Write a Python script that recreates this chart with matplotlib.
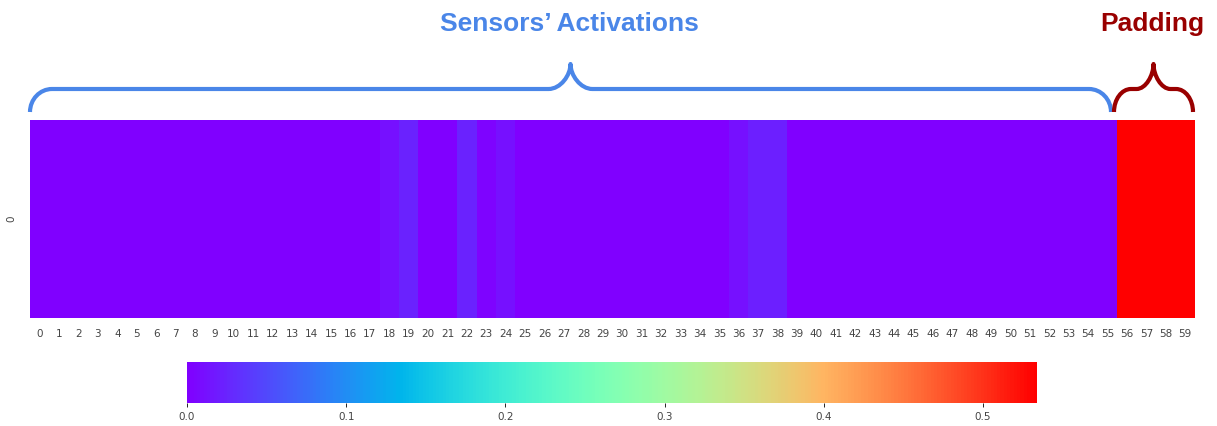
import matplotlib.pyplot as plt
from matplotlib.path import Path
from matplotlib.patches import PathPatch
import numpy as np
import seaborn as sns

# activation per column (56 sensors + 4 padding slots)
sensor_values = [0.0] * 56
sensor_values[18] = 0.012
sensor_values[19] = 0.024
sensor_values[22] = 0.025
sensor_values[23] = 0.004
sensor_values[24] = 0.012
sensor_values[36] = 0.012
sensor_values[37] = 0.022
sensor_values[38] = 0.022
padding_values = [0.534] * 4
values = sensor_values + padding_values
column_labels = [str(i) for i in range(len(values))]
row_labels = ['0']
cbar_ticks = [0.0, 0.1, 0.2, 0.3, 0.4, 0.5]

W, H = 1217, 426
fig = plt.figure(figsize=(W / 100, H / 100), dpi=100)

def box(x0, y0, x1, y1):
    return [x0 / W, 1 - y1 / H, (x1 - x0) / W, (y1 - y0) / H]

ax = fig.add_axes(box(30, 120, 1195, 318))
cax = fig.add_axes(box(187, 362, 1037, 403))

data = np.array([values])
sns.heatmap(data, ax=ax, cmap='rainbow', vmin=0, vmax=max(values),
            xticklabels=column_labels, yticklabels=row_labels,
            cbar_ax=cax, cbar_kws={'orientation': 'horizontal', 'ticks': cbar_ticks})
ax.tick_params(axis='x', labelsize=7.5, length=0, pad=8, labelcolor='#444444', rotation=0)
ax.tick_params(axis='y', labelsize=7.5, length=0, pad=10, labelcolor='#444444')
cax.tick_params(labelsize=7.5, labelcolor='#444444', length=3, width=0.6)
cax.set_xticklabels([f'{t:.1f}' for t in cbar_ticks])
for s in cax.spines.values():
    s.set_visible(False)

# overlay in pixel coordinates for braces and labels
ov = fig.add_axes([0, 0, 1, 1], facecolor='none')
ov.set_xlim(0, W)
ov.set_ylim(H, 0)
ov.axis('off')

def brace(x0, x1, y_end, y_mid, y_tip, r, color):
    xm = (x0 + x1) / 2
    k = 0.55
    verts = [
        (x0, y_end),
        (x0, y_end - k * (y_end - y_mid)), (x0 + (1 - k) * r, y_mid), (x0 + r, y_mid),
        (xm - r, y_mid),
        (xm - (1 - k) * r, y_mid), (xm, y_mid - k * (y_mid - y_tip)), (xm, y_tip),
        (xm, y_mid - k * (y_mid - y_tip)), (xm + (1 - k) * r, y_mid), (xm + r, y_mid),
        (x1 - r, y_mid),
        (x1 - (1 - k) * r, y_mid), (x1, y_end - k * (y_end - y_mid)), (x1, y_end),
    ]
    codes = [Path.MOVETO,
             Path.CURVE4, Path.CURVE4, Path.CURVE4,
             Path.LINETO,
             Path.CURVE4, Path.CURVE4, Path.CURVE4,
             Path.CURVE4, Path.CURVE4, Path.CURVE4,
             Path.LINETO,
             Path.CURVE4, Path.CURVE4, Path.CURVE4]
    ov.add_patch(PathPatch(Path(verts, codes), fill=False, edgecolor=color,
                           linewidth=3, capstyle='butt', joinstyle='round'))

blue = '#4a86e8'
red = '#990000'
brace(30, 1111, 112, 89, 64, 22, blue)
brace(1114, 1193, 112, 89, 64, 17, red)

ov.text(569, 24, 'Sensors\u2019 Activations', color=blue, fontsize=19,
        fontweight='bold', family='Liberation Sans', ha='center', va='center')
ov.text(1152, 24, 'Padding', color=red, fontsize=19,
        fontweight='bold', family='Liberation Sans', ha='center', va='center')

fig.savefig('out.png', dpi=100)
